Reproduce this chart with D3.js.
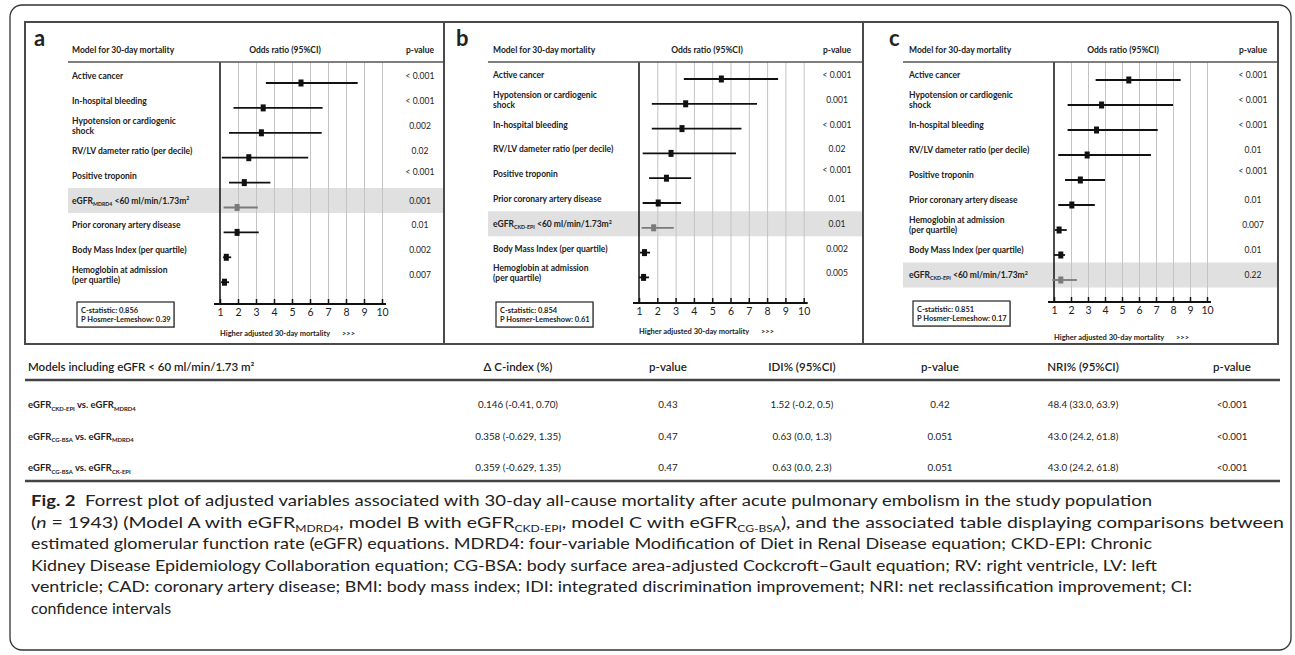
<!DOCTYPE html>
<html>
<head>
<meta charset="utf-8">
<title>Forrest plot 30-day mortality</title>
<script src="https://cdn.jsdelivr.net/npm/d3@7"></script>
<style>
body { margin:0; background:#fff; }
svg text { font-family: Lato, "Open Sans", sans-serif; fill:#222; white-space: pre; }
</style>
</head>
<body>
<div id="chart"></div>
<script>
var W = 1295, H = 655;

// ---- data ----
var ticks = [1, 2, 3, 4, 5, 6, 7, 8, 9, 10];

var labelsA = ["Active cancer", "In-hospital bleeding", "Hypotension or cardiogenic|shock", "RV/LV dameter ratio (per decile)", "Positive troponin",
  "eGFR_{MDRD4} <60 ml/min/1.73m^{2}", "Prior coronary artery disease", "Body Mass Index (per quartile)", "Hemoglobin at admission|(per quartile)"];
var orA = [5.5, 3.4, 3.3, 2.6, 2.35, 1.95, 1.95, 1.35, 1.25];
var loA = [3.55, 1.75, 1.5, 1.1, 1.5, 1.2, 1.2, 1.17, 1.06];
var hiA = [8.65, 6.7, 6.65, 5.9, 3.8, 3.1, 3.15, 1.62, 1.5];
var pA = ["< 0.001", "< 0.001", "0.002", "0.02", "< 0.001", "0.001", "0.01", "0.002", "0.007"];

var labelsB = ["Active cancer", "Hypotension or cardiogenic|shock", "In-hospital bleeding", "RV/LV dameter ratio (per decile)", "Positive troponin",
  "Prior coronary artery disease", "eGFR_{CKD-EPI} <60 ml/min/1.73m^{2}", "Body Mass Index (per quartile)", "Hemoglobin at admission|(per quartile)"];
var orB = [5.5, 3.55, 3.35, 2.75, 2.5, 2.05, 1.8, 1.3, 1.25];
var loB = [3.45, 1.7, 1.7, 1.2, 1.55, 1.2, 1.15, 1.05, 1.0];
var hiB = [8.6, 7.45, 6.6, 6.3, 3.85, 3.3, 2.9, 1.6, 1.55];
var pB = ["< 0.001", "0.001", "< 0.001", "0.02", "< 0.001", "0.01", "0.01", "0.002", "0.005"];

var labelsC = ["Active cancer", "Hypotension or cardiogenic|shock", "In-hospital bleeding", "RV/LV dameter ratio (per decile)", "Positive troponin",
  "Prior coronary artery disease", "Hemoglobin at admission|(per quartile)", "Body Mass Index (per quartile)", "eGFR_{CKD-EPI} <60 ml/min/1.73m^{2}"];
var orC = [5.4, 3.8, 3.5, 2.95, 2.55, 2.05, 1.3, 1.4, 1.4];
var loC = [3.45, 1.8, 1.8, 1.25, 1.65, 1.25, 1.05, 1.0, 0.9];
var hiC = [8.45, 8.0, 7.1, 6.7, 4.0, 3.4, 1.75, 1.65, 2.35];
var pC = ["< 0.001", "< 0.001", "< 0.001", "0.01", "< 0.001", "0.01", "0.007", "0.01", "0.22"];

var cStats = ["0.856", "0.854", "0.851"];
var hosmer = ["0.39", "0.61", "0.17"];
var highlight = [5, 6, 8];

var tableHeaders = ["Models including eGFR < 60 ml/min/1.73 m²", "Δ C-index (%)", "p-value", "IDI% (95%CI)", "p-value", "NRI% (95%CI)", "p-value"];
var tableModels = ["eGFR_{CKD-EPI} vs. eGFR_{MDRD4}", "eGFR_{CG-BSA} vs. eGFR_{MDRD4}", "eGFR_{CG-BSA} vs. eGFR_{CK-EPI}"];
var cIndex = ["0.146 (-0.41, 0.70)", "0.358 (-0.629, 1.35)", "0.359 (-0.629, 1.35)"];
var pCIndex = ["0.43", "0.47", "0.47"];
var idi = ["1.52 (-0.2, 0.5)", "0.63 (0.0, 1.3)", "0.63 (0.0, 2.3)"];
var pIdi = ["0.42", "0.051", "0.051"];
var nri = ["48.4 (33.0, 63.9)", "43.0 (24.2, 61.8)", "43.0 (24.2, 61.8)"];
var pNri = ["<0.001", "<0.001", "<0.001"];

var caption = [
  "*Fig. 2*  Forrest plot of adjusted variables associated with 30-day all-cause mortality after acute pulmonary embolism in the study population",
  "(~n~ = 1943) (Model A with eGFR_{MDRD4}, model B with eGFR_{CKD-EPI}, model C with eGFR_{CG-BSA}), and the associated table displaying comparisons between",
  "estimated glomerular function rate (eGFR) equations. MDRD4: four-variable Modification of Diet in Renal Disease equation; CKD-EPI: Chronic",
  "Kidney Disease Epidemiology Collaboration equation; CG-BSA: body surface area-adjusted Cockcroft–Gault equation; RV: right ventricle, LV: left",
  "ventricle; CAD: coronary artery disease; BMI: body mass index; IDI: integrated discrimination improvement; NRI: net reclassification improvement; CI:",
  "confidence intervals"
];

// ---- layout ----
var layout = [
  {id: "a", left: 25, right: 444, letterX: 34, labelX: 72, lineX0: 68, axisX: 220, step: 18, pX: 420, orX: 285, y0: 83, dy: 24.9, ciOff: 7, axisY: 304, boxX: 77, boxY: 302, higherY: 333},
  {id: "b", left: 444, right: 863, letterX: 456, labelX: 493, lineX0: 488, axisX: 639, step: 18.3, pX: 837, orX: 707, y0: 79, dy: 24.8, ciOff: 4, axisY: 303, boxX: 496, boxY: 302, higherY: 331},
  {id: "c", left: 863, right: 1278, letterX: 889, labelX: 909, lineX0: 903, axisX: 1054, step: 17, pX: 1253, orX: 1123, y0: 80, dy: 25, ciOff: 5, axisY: 302, boxX: 913, boxY: 301, higherY: 337}
];
var panelData = [
  {labels: labelsA, or: orA, lo: loA, hi: hiA, p: pA},
  {labels: labelsB, or: orB, lo: loB, hi: hiB, p: pB},
  {labels: labelsC, or: orC, lo: loC, hi: hiC, p: pC}
];

// writes a string with _{sub} ^{sup} *bold* ~italic~ markup into a text element
function rich(t, str, fs) {
  var parts = str.split(/(_\{[^}]*\}|\^\{[^}]*\}|\*[^*]*\*|~[^~]*~)/).filter(function(s) { return s !== ""; });
  var shift = 0;
  parts.forEach(function(p) {
    var ts = t.append("tspan");
    var d = 0;
    if (p.indexOf("_{") === 0) { ts.text(p.slice(2, -1)).attr("font-size", fs * 0.62); d = fs * 0.28; }
    else if (p.indexOf("^{") === 0) { ts.text(p.slice(2, -1)).attr("font-size", fs * 0.62); d = -fs * 0.38; }
    else if (p[0] === "*") { ts.text(p.slice(1, -1)).attr("font-weight", "bold"); }
    else if (p[0] === "~") { ts.text(p.slice(1, -1)).attr("font-style", "italic"); }
    else ts.text(p);
    if (d - shift !== 0) ts.attr("dy", d - shift);
    shift = d;
  });
}

var svg = d3.select("#chart").append("svg").attr("width", W).attr("height", H);

// outer rounded box
svg.append("rect").attr("x", 10).attr("y", 5).attr("width", 1281).attr("height", 645).attr("rx", 12)
  .attr("fill", "none").attr("stroke", "#333").attr("stroke-width", 1.3);

// panels
panelData.forEach(function(pd, k) {
  var L = layout[k];
  var g = svg.append("g");
  var n = pd.labels.length;
  var x = d3.scaleLinear().domain([1, 10]).range([L.axisX, L.axisX + 9 * L.step]);
  var y = d3.scaleLinear().domain([0, n - 1]).range([L.y0, L.y0 + (n - 1) * L.dy]);

  // shaded eGFR row
  var hy = y(highlight[k]) - L.ciOff;
  g.append("rect").attr("x", L.lineX0).attr("y", hy - 12.5).attr("width", L.right - L.lineX0).attr("height", 25).attr("fill", "#e0e0e0");

  // vertical grid
  g.append("g").attr("transform", "translate(0," + L.axisY + ")")
    .call(d3.axisBottom(x).tickValues(ticks.slice(1)).tickSize(-(L.axisY - 62)).tickFormat(""))
    .call(function(s) { s.select(".domain").remove(); s.selectAll("line").attr("stroke", "#c4c4c4").attr("stroke-width", 1); });

  // reference line at 1
  g.append("line").attr("x1", x(1)).attr("x2", x(1)).attr("y1", 62).attr("y2", L.axisY).attr("stroke", "#111").attr("stroke-width", 1.5);

  // bottom axis
  var ax = g.append("g").attr("transform", "translate(0," + L.axisY + ")")
    .call(d3.axisBottom(x).tickValues(ticks).tickSizeInner(-5).tickSizeOuter(0).tickPadding(5));
  ax.select(".domain").remove();
  ax.selectAll("line").attr("stroke", "#111").attr("stroke-width", 1.5);
  ax.selectAll("text").attr("font-family", "'Liberation Sans Narrow', 'Liberation Sans', sans-serif").attr("font-size", 10.5).attr("fill", "#222");
  ax.append("line").attr("x1", x(1) - 6).attr("x2", x(10) + 4).attr("y1", 0).attr("y2", 0).attr("stroke", "#111").attr("stroke-width", 2);

  // header
  g.append("text").attr("x", L.letterX).attr("y", 46).attr("font-family", "'Liberation Sans', Arial, sans-serif")
    .attr("font-weight", "bold").attr("font-size", 22).attr("fill", "#000").text(L.id);
  g.append("text").attr("x", L.labelX).attr("y", 53).attr("font-size", 8.5).attr("font-weight", "bold").text("Model for 30-day mortality");
  g.append("text").attr("x", L.orX).attr("y", 53).attr("text-anchor", "middle").attr("font-size", 8.5).attr("font-weight", "bold").text("Odds ratio (95%CI)");
  g.append("text").attr("x", L.pX).attr("y", 53).attr("text-anchor", "middle").attr("font-size", 8.5).attr("font-weight", "bold").text("p-value");
  g.append("line").attr("x1", L.lineX0).attr("x2", L.right).attr("y1", 62).attr("y2", 62).attr("stroke", "#555").attr("stroke-width", 1.5);

  // rows
  var rows = g.selectAll(".row").data(d3.range(n)).enter().append("g").attr("class", "row");
  rows.each(function(i) {
    var r = d3.select(this);
    var ly = y(i) - L.ciOff;
    var lines = pd.labels[i].split("|");
    lines.forEach(function(txt, j) {
      var t = r.append("text").attr("x", L.labelX).attr("y", ly + 3 + (lines.length > 1 ? (j === 0 ? -5 : 5) : 0))
        .attr("font-size", 8.5).attr("font-weight", "bold");
      rich(t, txt, 8.5);
    });
    var praise = (pd.p[i] === "< 0.001" && i === 4) ? -4 : 0;
    r.append("text").attr("x", L.pX).attr("y", ly + 3 + praise).attr("text-anchor", "middle").attr("font-size", 8.5).attr("fill", "#333").text(pd.p[i]);
  });

  var col = function(i) { return i === highlight[k] ? "#7a7a7a" : "#111"; };
  g.selectAll(".ci").data(d3.range(n)).enter().append("line").attr("class", "ci")
    .attr("x1", function(i) { return x(pd.lo[i]); }).attr("x2", function(i) { return x(pd.hi[i]); })
    .attr("y1", function(i) { return y(i); }).attr("y2", function(i) { return y(i); })
    .attr("stroke", col).attr("stroke-width", 1.8);
  g.selectAll(".pt").data(d3.range(n)).enter().append("rect").attr("class", "pt")
    .attr("x", function(i) { return x(pd.or[i]) - 2.5; }).attr("y", function(i) { return y(i) - 3.5; })
    .attr("width", 5).attr("height", 7).attr("fill", col);

  // C-statistic box
  g.append("rect").attr("x", L.boxX + 1).attr("y", L.boxY + 1).attr("width", 97).attr("height", 25).attr("fill", "#bbb");
  g.append("rect").attr("x", L.boxX).attr("y", L.boxY).attr("width", 97).attr("height", 25).attr("fill", "#fff").attr("stroke", "#222").attr("stroke-width", 1.2);
  g.append("text").attr("x", L.boxX + 4).attr("y", L.boxY + 10.5).attr("font-size", 7.5).attr("font-weight", "bold").text("C-statistic: " + cStats[k]);
  g.append("text").attr("x", L.boxX + 4).attr("y", L.boxY + 20).attr("font-size", 7.5).attr("font-weight", "bold").text("P Hosmer-Lemeshow: " + hosmer[k]);

  g.append("text").attr("x", L.axisX).attr("y", L.higherY + 3).attr("font-size", 7.5).attr("font-weight", "bold").text("Higher adjusted 30-day mortality");
  g.append("text").attr("x", L.axisX + 122).attr("y", L.higherY + 3).attr("font-size", 7.5).attr("font-weight", "bold").text(">>>");
});

// panel frames
svg.append("rect").attr("x", 25).attr("y", 22).attr("width", 1253).attr("height", 322).attr("fill", "none").attr("stroke", "#4a4a4a").attr("stroke-width", 2);
[444, 863].forEach(function(xx) {
  svg.append("line").attr("x1", xx).attr("x2", xx).attr("y1", 22).attr("y2", 344).attr("stroke", "#4a4a4a").attr("stroke-width", 2);
});

// table
var colX = [28, 518, 668, 802, 940, 1083, 1232];
var tRowY = d3.scaleLinear().domain([0, 2]).range([405, 468]);
svg.selectAll(".th").data(tableHeaders).enter().append("text").attr("class", "th")
  .attr("x", function(d, i) { return colX[i]; }).attr("y", 371)
  .attr("text-anchor", function(d, i) { return i === 0 ? "start" : "middle"; })
  .attr("font-size", 11.5).attr("font-weight", 600).text(function(d) { return d; });
svg.append("line").attr("x1", 25).attr("x2", 1280).attr("y1", 380).attr("y2", 380).attr("stroke", "#444").attr("stroke-width", 2.5);
svg.append("line").attr("x1", 25).attr("x2", 1280).attr("y1", 481).attr("y2", 481).attr("stroke", "#444").attr("stroke-width", 2.5);

var tableCols = [cIndex, pCIndex, idi, pIdi, nri, pNri];
tableModels.forEach(function(m, i) {
  var t = svg.append("text").attr("x", colX[0]).attr("y", tRowY(i) + 3).attr("font-size", 9.5).attr("font-weight", "bold");
  rich(t, m, 9.5);
  tableCols.forEach(function(c, j) {
    svg.append("text").attr("x", colX[j + 1]).attr("y", tRowY(i) + 3).attr("text-anchor", "middle").attr("font-size", 9.8).text(c[i]);
  });
});

// caption
var capY = d3.scaleLinear().domain([0, 5]).range([506, 614]);
var capEnd = [1152, 1284, 1152, 1157, 1192, null];
caption.forEach(function(line, i) {
  var t = svg.append("text").attr("x", 31).attr("y", capY(i))
    .attr("font-family", "'Open Sans', 'Noto Sans', sans-serif").attr("font-size", 16).attr("fill", "#231f20");
  rich(t, line, 16);
  if (capEnd[i]) t.attr("textLength", capEnd[i] - 31).attr("lengthAdjust", "spacingAndGlyphs");
});
</script>
</body>
</html>
